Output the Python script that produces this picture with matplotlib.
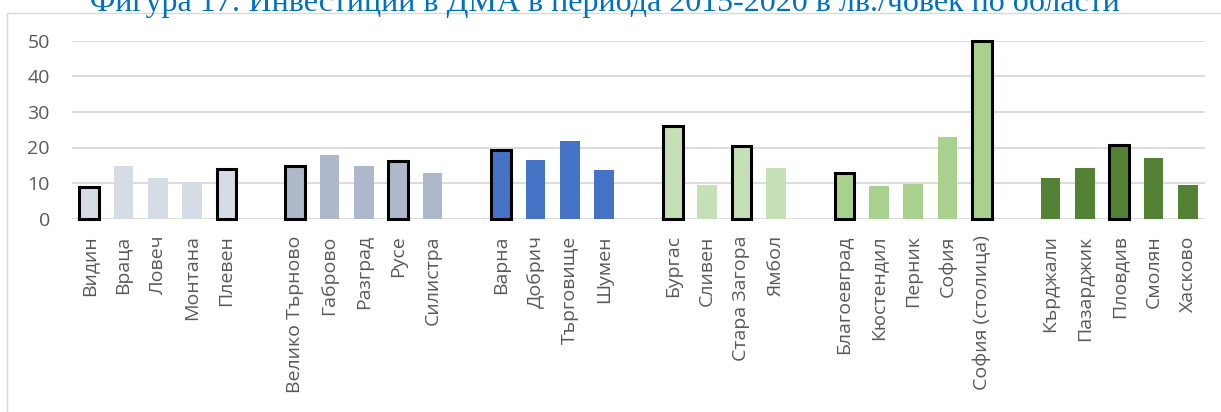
import matplotlib.pyplot as plt
from matplotlib.patches import Rectangle

# regions grouped by planning region
groups = [
    ['Видин', 'Враца', 'Ловеч', 'Монтана', 'Плевен'],
    ['Велико Търново', 'Габрово', 'Разград', 'Русе', 'Силистра'],
    ['Варна', 'Добрич', 'Търговище', 'Шумен'],
    ['Бургас', 'Сливен', 'Стара Загора', 'Ямбол'],
    ['Благоевград', 'Кюстендил', 'Перник', 'София', 'София (столица)'],
    ['Кърджали', 'Пазарджик', 'Пловдив', 'Смолян', 'Хасково'],
]
values = [
    [8.9, 14.8, 11.5, 10.3, 14.0],
    [14.8, 17.9, 14.8, 16.2, 12.8],
    [19.4, 16.4, 21.7, 13.8],
    [26.1, 9.5, 20.4, 14.2],
    [12.9, 9.2, 9.7, 22.9, 49.8],
    [11.4, 14.2, 20.8, 17.0, 9.5],
]
group_colors = ['#D6DCE5', '#ADB9CA', '#4472C4', '#C5E0B4', '#A9D18E', '#548235']
# regional centres, drawn with a black outline
outlined = ['Видин', 'Плевен', 'Велико Търново', 'Русе', 'Варна', 'Бургас',
            'Стара Загора', 'Благоевград', 'София (столица)', 'Пловдив']

title = 'Фигура 17: Инвестиции в ДМА в периода 2015-2020 в лв./човек по области'

fig = plt.figure(figsize=(12.21, 4.12), dpi=100)
ax = fig.add_axes([72 / 1221, 1 - 218.7 / 412, (1205 - 72) / 1221, 178 / 412])

pos = 0
xticks, xlabels = [], []
for names, vals, color in zip(groups, values, group_colors):
    for name, v in zip(names, vals):
        if name in outlined:
            ax.bar(pos, v, width=0.58, color=color, edgecolor='black',
                   linewidth=2.2, zorder=3, clip_on=False)
        else:
            ax.bar(pos, v, width=0.58, color=color, linewidth=0, zorder=3)
        xticks.append(pos)
        xlabels.append(name)
        pos += 1
    pos += 1

ax.set_xlim(-0.5, pos - 1.5)
ax.set_ylim(0, 50)
ax.set_yticks(range(0, 51, 10))
ax.set_xticks(xticks)
ax.set_xticklabels(xlabels, rotation=90)
ax.grid(axis='y', color='#D9D9D9', linewidth=1.3, zorder=0)
ax.set_axisbelow(True)
for s in ax.spines.values():
    s.set_visible(False)
ax.tick_params(axis='both', length=0, colors='#595959', labelsize=14)
ax.tick_params(axis='y', pad=16)
ax.tick_params(axis='x', pad=12)
for lbl in ax.get_xticklabels() + ax.get_yticklabels():
    lbl.set_family('Open Sans')

# chart area frame (extends beyond the image)
fig.patches.append(Rectangle((7 / 1221, -0.1), 1.1, 1 - 13 / 412 + 0.1,
                             transform=fig.transFigure, fill=False,
                             edgecolor='#D9D9D9', linewidth=1))
fig.text(605 / 1221, 1 - 10.5 / 412, title, ha='center', va='baseline',
         family='Liberation Serif', fontsize=23, color='#0070C0')

fig.savefig('out.png', dpi=100)
